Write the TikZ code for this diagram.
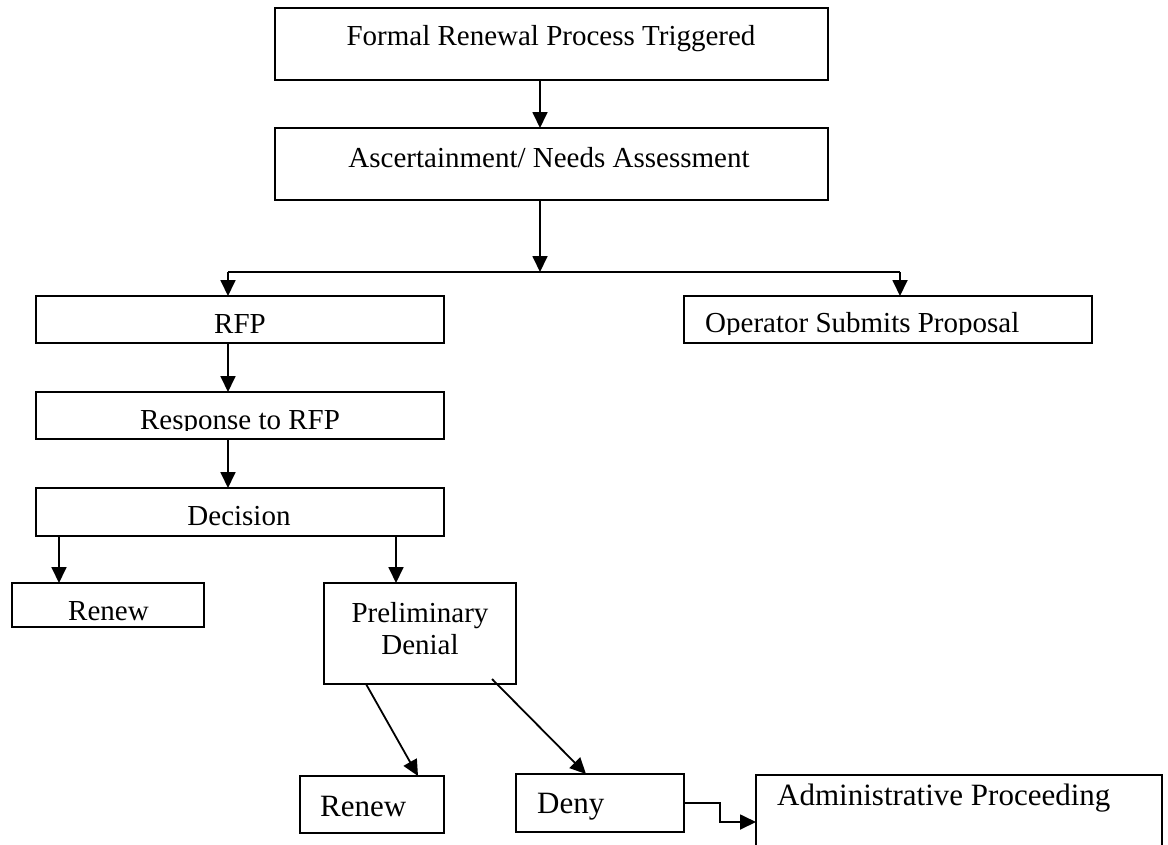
\documentclass[tikz,border=0pt]{standalone}
\usepackage{fontspec}
\setmainfont{Liberation Serif}
\usetikzlibrary{arrows.meta}
\begin{document}
\begin{tikzpicture}[x=1pt,y=-1pt,
  box/.style={draw, line width=2.2pt, inner sep=0pt, outer sep=0pt, anchor=north west},
  txt/.style={inner sep=0pt, anchor=base, font=\fontsize{29}{34}\selectfont},
  txtl/.style={txt, anchor=base west},
  big/.style={font=\fontsize{31}{36}\selectfont},
  arr/.style={line width=1.8pt, -{Triangle[length=16pt,width=15pt]}},
  ln/.style={line width=1.8pt}]
\useasboundingbox (0,0) rectangle (1168,844);
\clip (0,0) rectangle (1168,844);
% boxes
\node[box, minimum width=553pt, minimum height=72pt] (b1) at (275,8) {};
\node[box, minimum width=553pt, minimum height=72pt] (b2) at (275,128) {};
\node[box, minimum width=408pt, minimum height=47pt] (rfp) at (36,296) {};
\node[box, minimum width=408pt, minimum height=47pt] (op) at (684,296) {};
\node[box, minimum width=408pt, minimum height=47pt] (resp) at (36,392) {};
\node[box, minimum width=408pt, minimum height=48pt] (dec) at (36,488) {};
\node[box, minimum width=192pt, minimum height=44pt] (ren1) at (12,583) {};
\node[box, minimum width=192pt, minimum height=101pt] (pre) at (324,583) {};
\node[box, minimum width=144pt, minimum height=57pt] (ren2) at (300,776) {};
\node[box, minimum width=168pt, minimum height=58pt] (deny) at (516,774) {};
\node[box, minimum width=406pt, minimum height=95pt] (adm) at (756,775) {};
% texts
\node[txt] (t1) at (551,45) {Formal Renewal Process Triggered};
\node[txt] (t2) at (549,167) {Ascertainment/ Needs Assessment};
\node[txt] (t3) at (240,333) {RFP};
\begin{scope}
\clip (684,296) rectangle (1092,334);
\node[txtl] (t4) at (705,332) {Operator Submits Proposal};
\end{scope}
\begin{scope}
\clip (36,392) rectangle (444,430);
\node[txt] (t5) at (240,429) {Response to RFP};
\end{scope}
\node[txt] (t6) at (239,525) {Decision};
\node[txtl] (t7) at (68,620) {Renew};
\node[txt] (t8) at (420,622) {Preliminary};
\node[txt] (t9) at (420,654) {Denial};
\node[txtl, big] (t10) at (320,816) {Renew};
\node[txtl, big] (t11) at (537,813) {Deny};
\node[txtl, big] (t12) at (777,805) {Administrative Proceeding};
% connectors
\coordinate (c1) at (540,0);
\coordinate (br) at (540,272);
\coordinate (brl) at (228,272);
\coordinate (brr) at (900,272);
\coordinate (dl) at (59,0);
\coordinate (dr) at (396,0);
\draw[arr] (b1.south -| c1) -- (b2.north -| c1);
\draw[arr] (b2.south -| c1) -- (br);
\draw[ln] (brl) -- (brr);
\draw[arr] (brl) -- (rfp.north -| brl);
\draw[arr] (brr) -- (op.north -| brr);
\draw[arr] (rfp.south -| brl) -- (resp.north -| brl);
\draw[arr] (resp.south -| brl) -- (dec.north -| brl);
\draw[arr] (dec.south -| dl) -- (ren1.north -| dl);
\draw[arr] (dec.south -| dr) -- (pre.north -| dr);
\draw[arr] ([xshift=42pt]pre.south west) -- ([xshift=118pt]ren2.north west);
\draw[arr] ([xshift=168pt,yshift=5pt]pre.south west) -- ([xshift=70pt]deny.north west);
\draw[arr] (deny.east) -- ++(36,0) |- ([yshift=-47pt]adm.north west);
\end{tikzpicture}
\end{document}
